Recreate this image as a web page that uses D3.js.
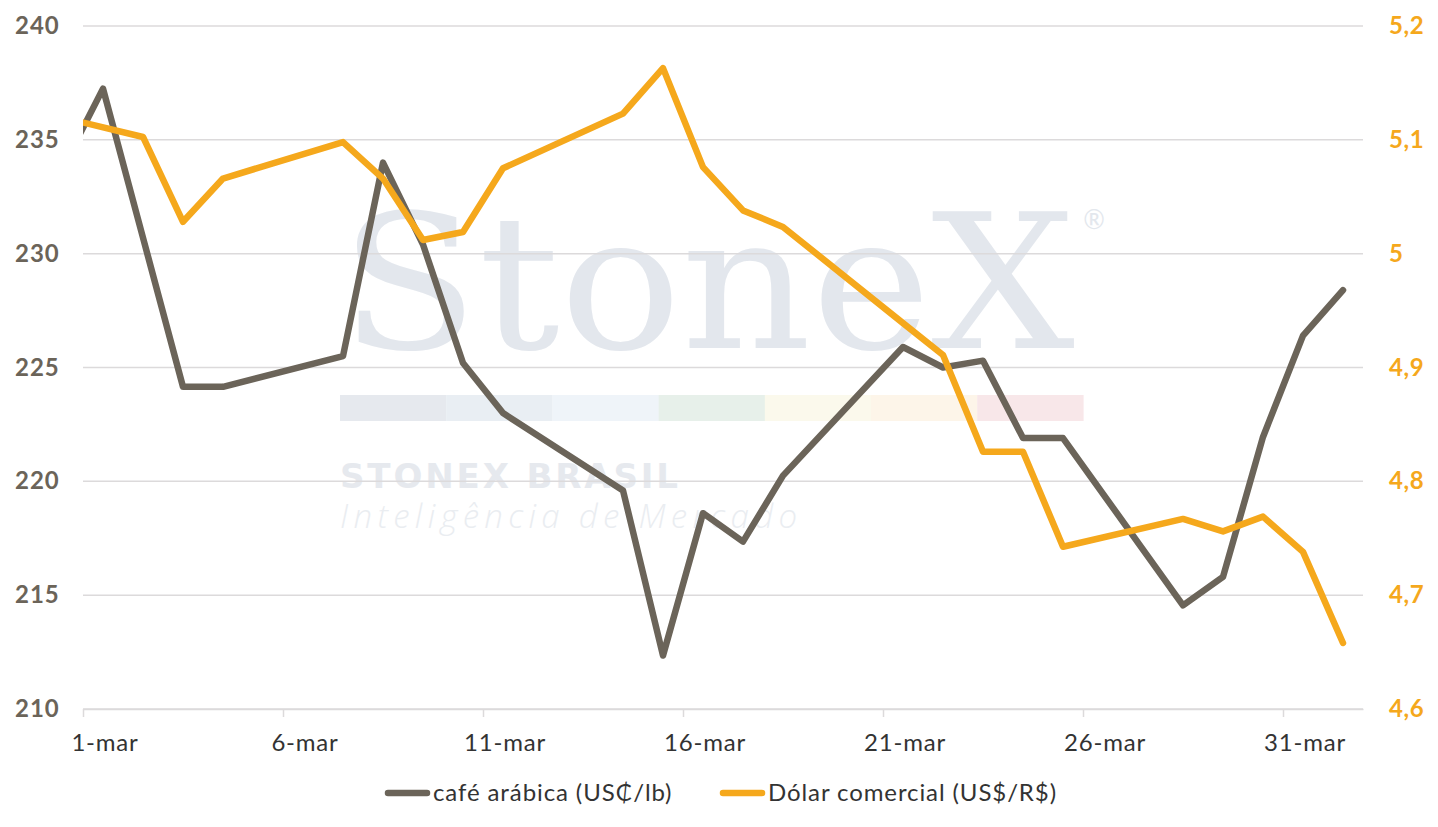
<!DOCTYPE html>
<html>
<head>
<meta charset="utf-8">
<script src="https://cdn.jsdelivr.net/npm/d3@7"></script>
<style>
  body { margin: 0; background: #fff; }
  svg { display: block; font-family: "Lato", "Open Sans", sans-serif; }
</style>
</head>
<body>
<div id="viz"></div>
<script>
const width = 1438;
const height = 827;
const margin = {top: 26, right: 75, bottom: 118, left: 83};

// day of march (0 = 28-feb, negative = february, 32 = 1-apr)
const coffeeDays = [0, 1, 2, 3, 4, 7, 8, 9, 10, 11, 14, 15, 16, 17, 18, 21, 22, 23, 24, 25, 28, 29, 30, 31, 32];
const coffeeValues = [233.8, 237.25, 230.7, 224.15, 224.15, 225.5, 234.0, 230.4, 225.2, 223.0, 219.6, 212.35, 218.6, 217.35, 220.25, 225.9, 225.0, 225.3, 221.9, 221.9, 214.55, 215.8, 221.95, 226.4, 228.4];

const dollarDays = [-3, 2, 3, 4, 7, 8, 9, 10, 11, 14, 15, 16, 17, 18, 21, 22, 23, 24, 25, 28, 29, 30, 31, 32];
const dollarValues = [5.145, 5.1025, 5.028, 5.066, 5.098, 5.066, 5.012, 5.019, 5.075, 5.123, 5.163, 5.076, 5.038, 5.0235, 4.939, 4.911, 4.826, 4.826, 4.7425, 4.767, 4.756, 4.769, 4.738, 4.658];

const labelDays = [1, 6, 11, 16, 21, 26, 31];
const leftTicks = [210, 215, 220, 225, 230, 235, 240];
const rightTicks = [4.6, 4.7, 4.8, 4.9, 5.0, 5.1, 5.2];

const series = [
  { label: 'café arábica (US₵/lb)', color: '#6b6459' },
  { label: 'Dólar comercial (US$/R$)', color: '#f5a81c' },
];
const bandColors = ['#e6e9ee', '#e9eef3', '#eff4f9', '#e7f0ea', '#fbf9ec', '#fdf5e9', '#f8e7e9'];

const coffee = coffeeDays.map((d, i) => ({ day: d, value: coffeeValues[i] }));
const dollar = dollarDays.map((d, i) => ({ day: d, value: dollarValues[i] }));

// scales
const scaleX = d3.scaleLinear()
  .domain([0.5, 32.5])
  .range([margin.left, width - margin.right]);

const scaleYLeft = d3.scaleLinear()
  .domain([210, 240])
  .range([height - margin.bottom, margin.top]);

const scaleYRight = d3.scaleLinear()
  .domain([4.6, 5.2])
  .range([height - margin.bottom, margin.top]);

const svg = d3.select('#viz')
  .append('svg')
    .attr('viewBox', [0, 0, width, height])
    .attr('width', width)
    .attr('height', height);

// watermark
const wm = svg.append('g').attr('class', 'watermark');
wm.append('text')
  .attr('x', 340)
  .attr('y', 348)
  .attr('textLength', 735)
  .attr('lengthAdjust', 'spacingAndGlyphs')
  .style('font-family', '"DejaVu Serif", "Liberation Serif", serif')
  .style('font-size', '188px')
  .attr('fill', '#e3e7ed')
  .text('StoneX');
wm.append('text')
  .attr('x', 1094)
  .attr('y', 229)
  .attr('text-anchor', 'middle')
  .style('font-size', '26px')
  .attr('fill', '#e3e7ed')
  .text('®');
wm.selectAll('rect')
  .data(bandColors)
  .join('rect')
    .attr('x', (d, i) => 340 + i * 106.2)
    .attr('y', 395)
    .attr('width', 106.4)
    .attr('height', 26)
    .attr('fill', d => d);
wm.append('text')
  .attr('x', 340)
  .attr('y', 488)
  .attr('textLength', 338)
  .attr('lengthAdjust', 'spacing')
  .style('font-family', '"DejaVu Sans", sans-serif')
  .style('font-size', '34px')
  .style('font-weight', 700)
  .attr('fill', '#e6e9ee')
  .text('STONEX BRASIL');
wm.append('text')
  .attr('x', 340)
  .attr('y', 528)
  .attr('textLength', 457)
  .attr('lengthAdjust', 'spacing')
  .style('font-family', '"Open Sans", sans-serif')
  .style('font-size', '33px')
  .style('font-style', 'italic')
  .style('font-weight', 300)
  .attr('fill', '#eaedf1')
  .text('Inteligência de Mercado');

// gridlines
svg.append('g')
  .attr('class', 'grid')
  .selectAll('line')
  .data(leftTicks)
  .join('line')
    .attr('x1', margin.left)
    .attr('x2', width - margin.right)
    .attr('y1', d => scaleYLeft(d))
    .attr('y2', d => scaleYLeft(d))
    .attr('stroke', '#dcdadb')
    .attr('stroke-width', 1.5);

// x axis
const axisBottom = d3.axisBottom(scaleX)
  .tickValues(labelDays.map(d => d - 0.5))
  .tickSize(8)
  .tickSizeOuter(0)
  .tickFormat('');
const xAxis = svg.append('g')
  .attr('transform', `translate(0,${height - margin.bottom})`)
  .call(axisBottom);
xAxis.select('.domain').attr('stroke', '#dcdadb').attr('stroke-width', 1.5);
xAxis.selectAll('.tick line').attr('stroke', '#dcdadb').attr('stroke-width', 1.5);

svg.append('g')
  .selectAll('text')
  .data(labelDays)
  .join('text')
    .attr('x', d => scaleX(d) + 2)
    .attr('y', height - margin.bottom + 42)
    .attr('text-anchor', 'middle')
    .style('font-size', '24px')
    .style('letter-spacing', '0.8px')
    .attr('fill', '#333333')
    .text(d => `${d}-mar`);

// left axis
svg.append('g')
  .selectAll('text')
  .data(leftTicks)
  .join('text')
    .attr('x', 15)
    .attr('y', d => scaleYLeft(d) + 8)
    .style('font-size', '24px')
    .style('font-weight', 700)
    .style('letter-spacing', '1px')
    .attr('fill', '#6b6459')
    .text(d => d);

// right axis
const commaFormat = d3.formatLocale({ decimal: ',', thousands: '.', grouping: [3], currency: ['R$', ''] }).format('~g');
svg.append('g')
  .selectAll('text')
  .data(rightTicks)
  .join('text')
    .attr('x', 1389)
    .attr('y', d => scaleYRight(d) + 8)
    .style('font-size', '24px')
    .style('font-weight', 700)
    .style('letter-spacing', '0.6px')
    .attr('fill', '#f5a81c')
    .text(d => commaFormat(d));

// lines
svg.append('clipPath')
  .attr('id', 'plot-clip')
  .append('rect')
    .attr('x', margin.left)
    .attr('y', 0)
    .attr('width', width - margin.left - margin.right)
    .attr('height', height);

const lineLeft = d3.line()
  .x(d => scaleX(d.day))
  .y(d => scaleYLeft(d.value));
const lineRight = d3.line()
  .x(d => scaleX(d.day))
  .y(d => scaleYRight(d.value));

const lines = svg.append('g').attr('clip-path', 'url(#plot-clip)');
lines.append('path')
  .datum(coffee)
  .attr('d', lineLeft)
  .attr('fill', 'none')
  .attr('stroke', series[0].color)
  .attr('stroke-width', 6.5)
  .attr('stroke-linejoin', 'round')
  .attr('stroke-linecap', 'round');
lines.append('path')
  .datum(dollar)
  .attr('d', lineRight)
  .attr('fill', 'none')
  .attr('stroke', series[1].color)
  .attr('stroke-width', 6.5)
  .attr('stroke-linejoin', 'round')
  .attr('stroke-linecap', 'round');

// legend
const legendX = [385, 720];
const legend = svg.append('g')
  .selectAll('g')
  .data(series)
  .join('g')
    .attr('transform', (d, i) => `translate(${legendX[i]},793)`);
legend.append('line')
  .attr('x1', 3)
  .attr('x2', 42)
  .attr('stroke', d => d.color)
  .attr('stroke-width', 6.5)
  .attr('stroke-linecap', 'round');
legend.append('text')
  .attr('x', 48)
  .attr('y', 8)
  .style('font-size', '24px')
  .style('letter-spacing', '0.9px')
  .attr('fill', '#333333')
  .text(d => d.label);
</script>
</body>
</html>
